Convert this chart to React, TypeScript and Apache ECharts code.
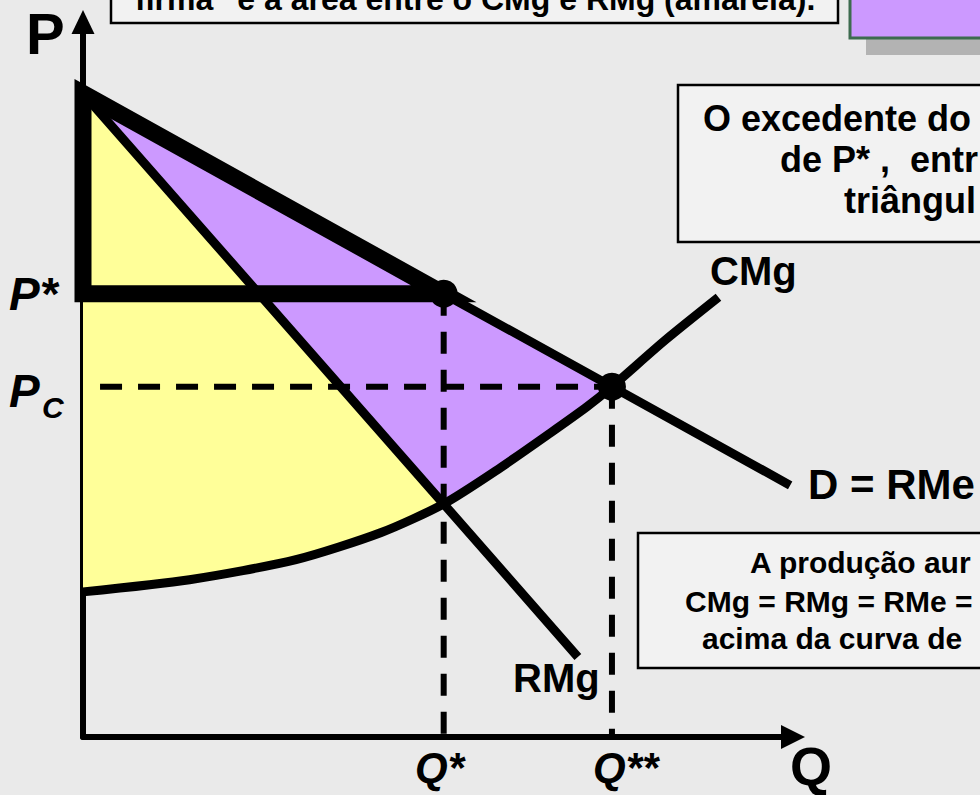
import React, { useEffect, useRef } from 'react';
import * as echarts from 'echarts';

// Demand (D = RMe)
const dQ = [0, 5.08, 7.45, 9.96];
const dP = [9.0, 6.2, 4.9, 3.52];
// Marginal revenue (RMg)
const rmgQ = [0, 5.08, 6.97];
const rmgP = [9.0, 3.26, 1.12];
// Marginal cost (CMg)
const cmgQ = [0, 1.5, 3.0, 4.2, 5.08, 5.87, 6.58, 7.1, 7.45, 8.2, 8.95];
const cmgP = [2.03, 2.2, 2.48, 2.86, 3.26, 3.76, 4.25, 4.62, 4.9, 5.55, 6.15];
// Key levels
const qStar = 5.08;
const qStar2 = 7.45;
const pStar = 6.2;
const pC = 4.9;
const pcDashStart = 0.24;

const FONT = '"Liberation Sans", Arial, sans-serif';

const zip = (xs: number[], ys: number[]) => xs.map((x, i) => [x, ys[i]]);

export default function App() {
  const ref = useRef<HTMLDivElement>(null);

  useEffect(() => {
    if (!ref.current) return;
    const chart = echarts.init(ref.current, null, { renderer: 'svg' });

    const cmg = zip(cmgQ, cmgP);
    const iQ = cmgQ.indexOf(qStar);
    const iQ2 = cmgQ.indexOf(qStar2);
    const yellowPoly = [[rmgQ[0], rmgP[0]], ...cmg.slice(0, iQ + 1).reverse()];
    const purplePoly = [[dQ[0], dP[0]], [dQ[2], dP[2]], ...cmg.slice(iQ, iQ2 + 1).reverse()];
    const borderPoly = [[dQ[0], dP[0]], [qStar, pStar], [0, pStar]];

    const polySeries = (pts: number[][], style: any, z: number) => ({
      type: 'custom',
      coordinateSystem: 'cartesian2d',
      z,
      clip: false,
      silent: true,
      data: pts,
      encode: { x: 0, y: 1 },
      renderItem: (params: any, api: any) => {
        if (params.dataIndex !== 0) return null;
        return {
          type: 'polygon',
          shape: { points: pts.map((p) => api.coord(p)) },
          style,
        };
      },
    });

    const lineSeries = (data: number[][], width: number, z: number, dashed = false, smooth: any = false) => ({
      type: 'line',
      data,
      z,
      clip: false,
      silent: true,
      symbol: 'none',
      showSymbol: false,
      smooth,
      lineStyle: { color: '#000', width, type: dashed ? [22, 16] : 'solid', cap: 'butt' },
    });

    const txt = (text: string, x: number, baseline: number, size: number, style = 'bold') => ({
      type: 'text',
      z: 100,
      silent: true,
      style: {
        text,
        x,
        y: baseline - 0.35 * size,
        font: `${style} ${size}px ${FONT}`,
        fill: '#000',
        textAlign: 'left',
        textVerticalAlign: 'middle',
        align: 'left',
        verticalAlign: 'middle',
      },
    });

    const axisCommon = {
      type: 'value',
      min: 0,
      max: 10,
      axisTick: { show: false },
      axisLabel: { show: false },
      splitLine: { show: false },
    };

    chart.setOption({
      animation: false,
      backgroundColor: '#EAEAEA',
      grid: { left: 83, right: 187, top: 22, bottom: 58, containLabel: false },
      xAxis: {
        ...axisCommon,
        axisLine: {
          show: true,
          onZero: false,
          symbol: ['none', 'triangle'],
          symbolSize: [24, 24],
          lineStyle: { color: '#000', width: 6 },
        },
      },
      yAxis: {
        ...axisCommon,
        axisLine: {
          show: true,
          onZero: false,
          symbol: ['none', 'triangle'],
          symbolSize: [23, 24],
          lineStyle: { color: '#000', width: 6 },
        },
      },
      series: [
        polySeries(yellowPoly, { fill: '#FFFF99', stroke: 'none' }, 1),
        polySeries(purplePoly, { fill: '#CC99FF', stroke: 'none' }, 1),
        lineSeries([[pcDashStart, pC], [qStar2, pC]], 6, 2, true),
        lineSeries([[qStar, pStar], [qStar, 0]], 6, 2, true),
        lineSeries([[qStar2, pC], [qStar2, 0]], 6, 2, true),
        lineSeries(zip(rmgQ, rmgP), 9, 3),
        lineSeries(cmg, 9, 3, false, 0.25),
        lineSeries(zip(dQ, dP), 9, 3),
        polySeries(
          borderPoly,
          { fill: 'none', stroke: '#000', lineWidth: 17, lineJoin: 'miter', miterLimit: 10 },
          4
        ),
        {
          type: 'scatter',
          z: 5,
          silent: true,
          clip: false,
          symbol: 'circle',
          symbolSize: 28,
          itemStyle: { color: '#000', opacity: 1 },
          data: [[qStar, pStar], [qStar2, pC]],
        },
      ],
      graphic: [
        // top-left box
        {
          type: 'rect', z: 90, silent: true,
          shape: { x: 111, y: -20, width: 727, height: 43 },
          style: { fill: '#F2F2F2', stroke: '#000', lineWidth: 2.5 },
        },
        txt('firma" e a área entre o CMg e RMg (amarela).', 135, 10, 32),
        // purple box with shadow
        {
          type: 'rect', z: 89, silent: true,
          shape: { x: 866, y: 6, width: 140, height: 49 },
          style: { fill: '#B3B3B3' },
        },
        {
          type: 'rect', z: 90, silent: true,
          shape: { x: 850, y: -10, width: 150, height: 48 },
          style: { fill: '#CC99FF', stroke: '#3D6B4F', lineWidth: 3 },
        },
        // right box
        {
          type: 'rect', z: 90, silent: true,
          shape: { x: 678, y: 85, width: 330, height: 157 },
          style: { fill: '#F2F2F2', stroke: '#000', lineWidth: 2.5 },
        },
        txt('O excedente do', 703, 131, 36),
        txt('de P* ,  entr', 780, 172, 36),
        txt('triângul', 844, 213, 36),
        // lower-right box
        {
          type: 'rect', z: 90, silent: true,
          shape: { x: 638, y: 533, width: 370, height: 135 },
          style: { fill: '#F2F2F2', stroke: '#000', lineWidth: 2.5 },
        },
        txt('A produção aur', 750, 573, 30),
        txt('CMg = RMg = RMe =', 685, 612, 30),
        txt('acima da curva de', 702, 649, 30),
        // axis labels
        txt('P', 26, 54, 58),
        txt('Q', 790, 785, 54),
        txt('P*', 9, 310, 46, 'italic bold'),
        txt('P', 9, 407, 46, 'italic bold'),
        txt('C', 42, 418, 30, 'italic bold'),
        txt('Q*', 415, 782, 42, 'italic bold'),
        txt('Q**', 593, 782, 42, 'italic bold'),
        // curve labels
        txt('CMg', 710, 285, 40),
        txt('D = RMe', 808, 499, 42),
        txt('RMg', 513, 692, 40),
      ],
    });

    return () => chart.dispose();
  }, []);

  return (
    <div
      ref={ref}
      style={{ position: 'fixed', left: 0, top: 0, width: 980, height: 795 }}
    />
  );
}
